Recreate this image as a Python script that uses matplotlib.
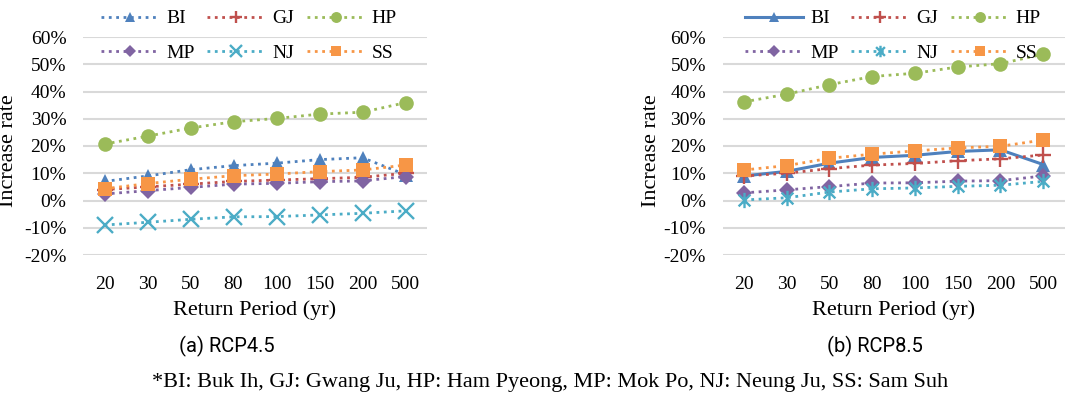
import matplotlib.pyplot as plt
from matplotlib.path import Path
from matplotlib.ticker import PercentFormatter

# Return periods (x categories)
periods = ['20', '30', '50', '80', '100', '150', '200', '500']
stations = ['BI', 'GJ', 'HP', 'MP', 'NJ', 'SS']

# RCP4.5 increase rates
bi45 = [0.070, 0.090, 0.113, 0.128, 0.137, 0.150, 0.157, 0.095]
gj45 = [0.040, 0.050, 0.060, 0.070, 0.075, 0.080, 0.085, 0.100]
hp45 = [0.207, 0.236, 0.266, 0.289, 0.301, 0.317, 0.324, 0.359]
mp45 = [0.024, 0.036, 0.048, 0.060, 0.063, 0.069, 0.072, 0.088]
nj45 = [-0.090, -0.080, -0.069, -0.060, -0.059, -0.053, -0.047, -0.038]
ss45 = [0.043, 0.062, 0.078, 0.091, 0.097, 0.106, 0.112, 0.130]

# RCP8.5 increase rates
bi85 = [0.090, 0.107, 0.137, 0.158, 0.166, 0.180, 0.186, 0.132]
gj85 = [0.090, 0.100, 0.117, 0.130, 0.136, 0.146, 0.153, 0.167]
hp85 = [0.362, 0.390, 0.425, 0.455, 0.467, 0.490, 0.502, 0.537]
mp85 = [0.028, 0.039, 0.051, 0.064, 0.065, 0.071, 0.073, 0.090]
nj85 = [0.002, 0.010, 0.031, 0.043, 0.046, 0.052, 0.056, 0.070]
ss85 = [0.112, 0.128, 0.155, 0.170, 0.182, 0.193, 0.199, 0.222]

colors = ['#4F81BD', '#C0504D', '#9BBB59', '#8064A2', '#4BACC6', '#F79646']

# asterisk marker (x with a vertical bar)
star = Path([(-1, -1), (1, 1), (-1, 1), (1, -1), (0, -1.3), (0, 1.3)],
            [Path.MOVETO, Path.LINETO, Path.MOVETO, Path.LINETO, Path.MOVETO, Path.LINETO])

plt.rcParams['axes.unicode_minus'] = False
serif = 'Liberation Serif'
W, H = 1082, 398
fig = plt.figure(figsize=(W / 100, H / 100), dpi=100)


def draw(ax, series, nj_marker, bi_style, legend_x, ylabel_x):
    x = range(len(periods))
    markers = ['^', '+', 'o', 'D', nj_marker, 's']
    sizes = [10, 11, 10.5, 8, 11, 10]
    handles = []
    for i, (name, vals) in enumerate(zip(stations, series)):
        ls = bi_style if i == 0 else ':'
        open_marker = markers[i] in ('+', 'x') or i == 4
        h, = ax.plot(x, vals, linestyle=ls, linewidth=2 if ls == ':' else 2.2,
                     color=colors[i], marker=markers[i], markersize=sizes[i],
                     markeredgewidth=1.7 if open_marker else 0,
                     markerfacecolor='none' if open_marker else colors[i],
                     markeredgecolor=colors[i], label=name, zorder=3)
        handles.append(h)
    ax.set_xlim(-0.5, len(periods) - 0.5)
    ax.set_ylim(-0.2, 0.6)
    ax.set_yticks([-0.2, -0.1, 0, 0.1, 0.2, 0.3, 0.4, 0.5, 0.6])
    ax.yaxis.set_major_formatter(PercentFormatter(1.0, decimals=0))
    ax.set_xticks(list(x))
    ax.set_xticklabels(periods)
    ax.grid(axis='y', color='#D9D9D9', linewidth=1.5, zorder=0)
    ax.set_axisbelow(True)
    for s in ax.spines.values():
        s.set_visible(False)
    ax.tick_params(length=0, labelsize=14, pad=12)
    ax.tick_params(axis='x', pad=15)
    for t in ax.get_xticklabels() + ax.get_yticklabels():
        t.set_fontfamily(serif)
    ax.set_ylabel('Increase rate', fontfamily=serif, fontsize=16)
    ax.yaxis.set_label_coords(ylabel_x, 0.48)
    ax.set_xlabel('Return Period (yr)', fontfamily=serif, fontsize=16, labelpad=5)
    # row-major order for 3 columns: BI GJ HP / MP NJ SS
    order = [0, 3, 1, 4, 2, 5]
    ax.legend([handles[k] for k in order], [stations[k] for k in order],
              ncol=3, loc='upper left', bbox_to_anchor=(legend_x, 1 - 5 / H),
              bbox_transform=fig.transFigure, frameon=False,
              prop={'family': serif, 'size': 14}, handlelength=3.0,
              handletextpad=0.35, columnspacing=0.65, labelspacing=0.85,
              markerscale=0.75, borderaxespad=0, borderpad=0.25)


ax1 = fig.add_axes([83 / W, 1 - 255 / H, 344 / W, 218 / H])
draw(ax1, [bi45, gj45, hp45, mp45, nj45, ss45], 'x', ':', 96 / W, -0.19)

ax2 = fig.add_axes([722.6 / W, 1 - 255 / H, 342 / W, 218 / H])
draw(ax2, [bi85, gj85, hp85, mp85, nj85, ss85], star, '-', 740 / W, -0.18)

fig.text(227 / W, 1 - 346 / H, '(a) RCP4.5', ha='center', va='center',
         fontfamily='Roboto', fontsize=14.5)
fig.text(875 / W, 1 - 346 / H, '(b) RCP8.5', ha='center', va='center',
         fontfamily='Roboto', fontsize=14.5)
fig.text(550 / W, 1 - 383 / H,
         '*BI: Buk Ih, GJ: Gwang Ju, HP: Ham Pyeong, MP: Mok Po, NJ: Neung Ju, SS: Sam Suh',
         ha='center', va='center', fontfamily=serif, fontsize=16)

fig.savefig('out.png', dpi=100)
